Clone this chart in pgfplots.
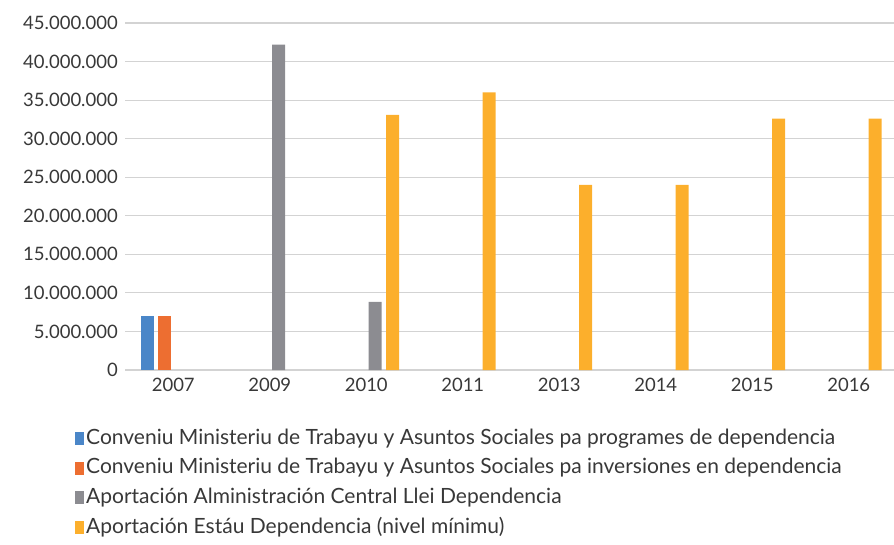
\documentclass[border=0pt]{standalone}
\usepackage{pgfplots}
\pgfplotsset{compat=1.18}
\usepackage{fontspec}
\setmainfont{Lato}
\definecolor{cblue}{HTML}{4A86C8}
\definecolor{corange}{HTML}{ED6E31}
\definecolor{cgray}{HTML}{8C8C91}
\definecolor{cyellow}{HTML}{FCAF2C}
\definecolor{ctext}{HTML}{383838}
\definecolor{cgrid}{HTML}{D3D3D3}
\begin{document}
\begin{tikzpicture}
\path[use as bounding box] (0,0) rectangle (894pt,544pt);
\begin{axis}[
  at={(125pt,174pt)}, anchor=south west,
  scale only axis, width=772pt, height=347pt,
  xmin=-0.5, xmax=7.5, ymin=0, ymax=45000000,
  ybar=4.5pt, bar width=13pt,
  xtick={0,...,7},
  xticklabels={2007,2009,2010,2011,2013,2014,2015,2016},
  ytick={0,5000000,10000000,15000000,20000000,25000000,30000000,35000000,40000000,45000000},
  scaled y ticks=false,
  /pgf/number format/.cd, fixed, precision=0, 1000 sep={.}, assume math mode=true,
  /pgfplots/.cd,
  major tick length=0pt,
  ymajorgrids, grid style={cgrid, line width=1.1pt},
  axis line style={draw=none},
  tick label style={font=\fontsize{18.5}{20}\selectfont, text=ctext},
  yticklabel style={anchor=east, inner sep=0pt, xshift=-7pt},
  xticklabel style={anchor=north, inner sep=0pt, yshift=-8pt},
  legend cell align=left,
  legend style={at={(0,0)}, anchor=north west, xshift=-53pt, yshift=-55pt,
    draw=none, fill=none, font=\fontsize{21}{23}\selectfont, text=ctext,
    nodes={inner sep=2pt, text height=15pt, text depth=5pt},
    row sep=5.6pt},
  legend image code/.code={\fill[#1] (0pt,-6pt) rectangle (9pt,7pt);},
]
\addplot[fill=cblue, draw=none] coordinates {(0,7000000)};
\addlegendentry{Conveniu Ministeriu de Trabayu y Asuntos Sociales pa programes de dependencia}
\addplot[fill=corange, draw=none] coordinates {(0,7000000)};
\addlegendentry{Conveniu Ministeriu de Trabayu y Asuntos Sociales pa inversiones en dependencia}
\addplot[fill=cgray, draw=none] coordinates {(1,42200000) (2,8850000)};
\addlegendentry{Aportación Alministración Central Llei Dependencia}
\addplot[fill=cyellow, draw=none] coordinates {(2,33100000) (3,36000000) (4,24000000) (5,24000000) (6,32600000) (7,32600000)};
\addlegendentry{Aportación Estáu Dependencia (nivel mínimu)}
\end{axis}
\end{tikzpicture}
\end{document}
